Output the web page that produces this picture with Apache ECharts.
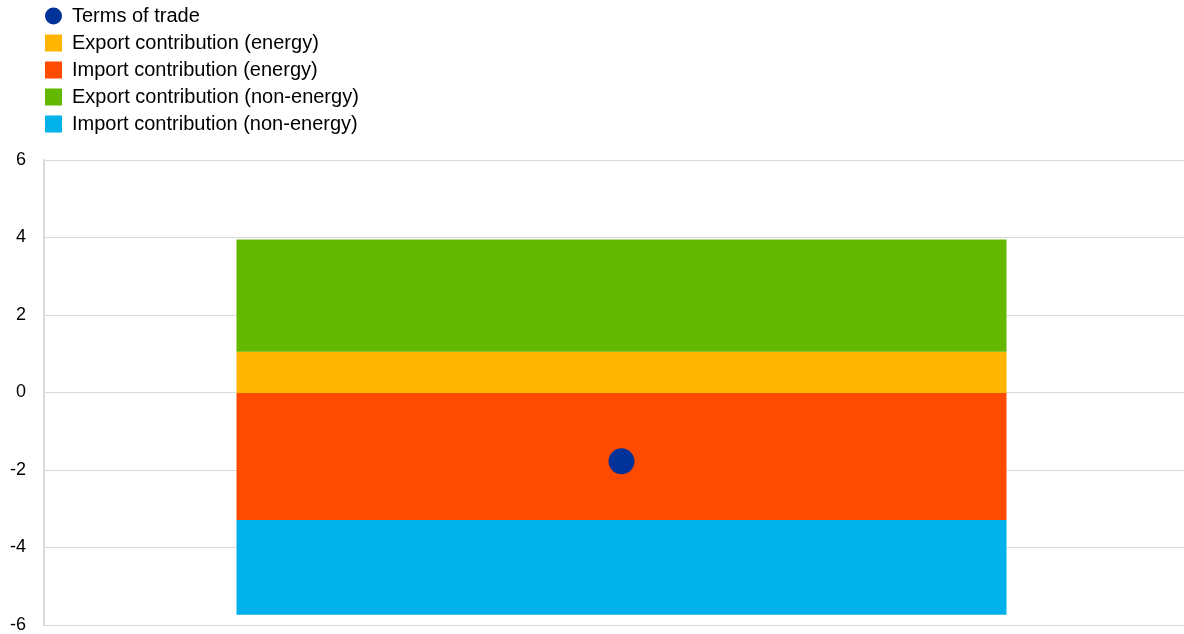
<!DOCTYPE html>
<html>
<head>
<meta charset="utf-8">
<script src="https://cdn.jsdelivr.net/npm/echarts@6/dist/echarts.min.js"></script>
<style>html,body{margin:0;padding:0;background:#fff;}#c{width:1184px;height:634px;}</style>
</head>
<body>
<div id="c"></div>
<script>
var categories = [''];
var termsOfTrade = [-1.76];
var exportEnergy = [1.06];
var importEnergy = [-3.27];
var exportNonEnergy = [2.89];
var importNonEnergy = [-2.44];
var yTicks = [-6, -4, -2, 0, 2, 4, 6];

var font = 'Arial, "Liberation Sans", sans-serif';
var yMin = yTicks[0], yMax = yTicks[yTicks.length - 1];
var chart = echarts.init(document.getElementById('c'));
chart.setOption({
  animation: false,
  textStyle: {fontFamily: font},
  legend: {
    orient: 'vertical', left: 40, top: 1, itemGap: 7,
    itemWidth: 17, itemHeight: 17,
    textStyle: {fontSize: 20, color: '#000', fontFamily: font, padding: [0, 0, 0, 5]},
    data: [
      {name: 'Terms of trade', icon: 'circle'},
      {name: 'Export contribution (energy)', icon: 'rect'},
      {name: 'Import contribution (energy)', icon: 'rect'},
      {name: 'Export contribution (non-energy)', icon: 'rect'},
      {name: 'Import contribution (non-energy)', icon: 'rect'}
    ]
  },
  grid: [
    {left: 44, right: 0, top: 160, height: 466, containLabel: false},
    {left: 59, right: 0, top: 160, height: 466, containLabel: false}
  ],
  xAxis: [
    {gridIndex: 0, type: 'category', data: categories, show: false},
    {gridIndex: 1, type: 'category', data: categories, show: false}
  ],
  yAxis: [
    {
      gridIndex: 0, type: 'value', min: yMin, max: yMax, interval: 2,
      axisLine: {show: true, lineStyle: {color: '#d9d9d9', width: 2}},
      axisTick: {show: false},
      axisLabel: {fontSize: 18, color: '#000', margin: 18, fontFamily: font},
      splitLine: {lineStyle: {color: '#d9d9d9', width: 1}}
    },
    {
      gridIndex: 1, type: 'value', min: yMin, max: yMax, interval: 2, show: false,
      splitLine: {show: false}
    }
  ],
  series: [
    {name: 'Export contribution (energy)', type: 'bar', stack: 'a', xAxisIndex: 1, yAxisIndex: 1, data: exportEnergy, barWidth: 770, itemStyle: {color: '#FFB400'}},
    {name: 'Import contribution (energy)', type: 'bar', stack: 'a', xAxisIndex: 1, yAxisIndex: 1, data: importEnergy, barWidth: 770, itemStyle: {color: '#FF4B00'}},
    {name: 'Export contribution (non-energy)', type: 'bar', stack: 'a', xAxisIndex: 1, yAxisIndex: 1, data: exportNonEnergy, barWidth: 770, itemStyle: {color: '#65B800'}},
    {name: 'Import contribution (non-energy)', type: 'bar', stack: 'a', xAxisIndex: 1, yAxisIndex: 1, data: importNonEnergy, barWidth: 770, itemStyle: {color: '#00B1EA'}},
    {name: 'Terms of trade', type: 'scatter', xAxisIndex: 1, yAxisIndex: 1, data: termsOfTrade, symbolSize: 26, itemStyle: {color: '#003299', opacity: 1}, z: 10}
  ]
});
</script>
</body>
</html>
